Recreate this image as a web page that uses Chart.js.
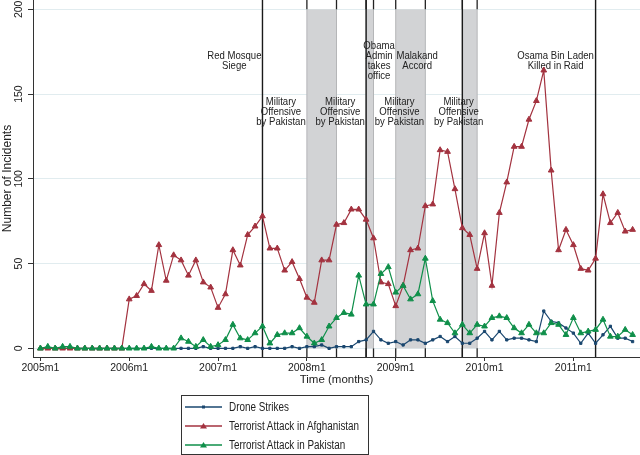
<!DOCTYPE html>
<html>
<head>
<meta charset="utf-8">
<title>Drone strikes and terrorist attacks</title>
<script src="https://cdn.jsdelivr.net/npm/chart.js@4.4.1/dist/chart.umd.min.js"></script>
<style>
    html, body { margin: 0; padding: 0; background: #fff; }
    #wrap { position: relative; width: 640px; height: 455px; }
    #legend {
        position: absolute; left: 181px; top: 395px; width: 186px; height: 57px;
        border: 1px solid #333; padding-top: 1px; box-sizing: content-box;
        font-family: 'Liberation Sans', Arial, sans-serif; font-size: 12.5px; color: #222;
    }
    .legend-row { height: 19px; display: flex; align-items: center; padding-left: 3px; }
    .legend-row svg { flex: none; }
    .legend-row span { display: inline-block; margin-left: 7px; white-space: nowrap; transform: scaleX(0.79); transform-origin: left center; }
</style>
</head>
<body>
<div id="wrap">
    <canvas id="chart" width="640" height="455"></canvas>
    <div id="legend"></div>
</div>
<script>
// months counted from 2005m1 (= 0) up to 2011m9 (= 80)
const tickMonths = [0, 12, 24, 36, 48, 60, 72];
const tickLabels = ['2005m1', '2006m1', '2007m1', '2008m1', '2009m1', '2010m1', '2011m1'];
const yTicks = [0, 50, 100, 150, 200];

const droneStrikes = [
    0, 0, 0, 0, 0, 0, 0, 0, 0, 0, 0, 0,
    0, 0, 0, 0, 0, 0, 0, 0, 0, 0, 1, 0,
    0, 0, 0, 1, 0, 1, 0, 0, 0, 0, 1, 0,
    1, 1, 2, 0, 1, 1, 1, 4, 5, 10, 5, 3,
    4, 2, 5, 5, 3, 5, 7, 4, 7, 3, 3, 6,
    10, 5, 10, 5, 6, 6, 5, 4, 22, 16, 15, 12,
    9, 3, 9, 3, 8, 13, 6, 6, 4,
];
const afghanistanAttacks = [
    0, 0, 0, 0, 0, 0, 0, 0, 0, 0, 0, 0,
    29, 31, 38, 34, 61, 40, 55, 52, 43, 52, 39, 36,
    24, 32, 58, 49, 67, 72, 78, 59, 59, 46, 51, 41,
    30, 27, 52, 52, 73, 74, 82, 82, 76, 65, 39, 38,
    25, 37, 58, 59, 84, 85, 117, 116, 94, 71, 67, 47,
    68, 37, 80, 98, 119, 119, 135, 146, 164, 105, 58, 70,
    61, 47, 46, 53, 91, 74, 80, 69, 70,
];
const pakistanAttacks = [
    0, 1, 0, 1, 1, 0, 0, 0, 0, 0, 0, 0,
    0, 0, 0, 1, 0, 0, 0, 6, 4, 1, 5, 1,
    2, 5, 14, 6, 5, 9, 13, 3, 8, 9, 9, 12,
    7, 3, 5, 13, 18, 21, 20, 43, 26, 26, 44, 48,
    33, 37, 29, 32, 53, 28, 17, 15, 9, 14, 9, 14,
    13, 18, 19, 18, 12, 9, 14, 9, 9, 15, 14, 8,
    18, 9, 10, 11, 17, 7, 7, 11, 8,
];

// shaded periods and single events, in months from 2005m1
const shadedPeriods = [[36, 40], [44, 45], [48, 52], [57, 59]];
const eventMonths = [30, 44, 57, 75];

const notes = [
    { month: 26.2, value: 172.4, lines: ['Red Mosque', 'Siege'] },
    { month: 32.5, value: 145.3, lines: ['Military', 'Offensive', 'by Pakistan'] },
    { month: 40.5, value: 145.3, lines: ['Military', 'Offensive', 'by Pakistan'] },
    { month: 45.75, value: 178.3, lines: ['Obama', 'Admin', 'takes', 'office'] },
    { month: 50.9, value: 172.4, lines: ['Malakand', 'Accord'] },
    { month: 48.5, value: 145.3, lines: ['Military', 'Offensive', 'by Pakistan'] },
    { month: 56.5, value: 145.3, lines: ['Military', 'Offensive', 'by Pakistan'] },
    { month: 69.6, value: 172.4, lines: ['Osama Bin Laden', 'Killed in Raid'] },
];

const FONT = "'Liberation Sans', Arial, sans-serif";

const series = [
    { label: 'Drone Strikes', data: droneStrikes, color: '#1a476f', pointStyle: 'rect', radius: 1.6, order: 2 },
    { label: 'Terrorist Attack in Afghanistan', data: afghanistanAttacks, color: '#a3323f', pointStyle: 'triangle', radius: 3.3, order: 1 },
    { label: 'Terrorist Attack in Pakistan', data: pakistanAttacks, color: '#0f8f4a', pointStyle: 'triangle', radius: 3.3, order: 0 },
];

function vLine(ctx, px, from, to) {
    ctx.beginPath();
    ctx.moveTo(px, from);
    ctx.lineTo(px, to);
    ctx.stroke();
}

const eventsPlugin = {
    id: 'events',
    beforeDatasetsDraw(chart) {
        const { ctx, chartArea, scales: { x, y } } = chart;
        const yTop = y.getPixelForValue(200);
        const yZero = y.getPixelForValue(0);
        ctx.save();

        // shaded periods, outlined in a slightly darker grey
        ctx.fillStyle = '#d2d3d5';
        ctx.strokeStyle = '#b5b6b8';
        ctx.lineWidth = 1;
        shadedPeriods.forEach(([from, to]) => {
            const x0 = x.getPixelForValue(from);
            const x1 = x.getPixelForValue(to);
            ctx.fillRect(x0, yTop, x1 - x0, yZero - yTop);
            vLine(ctx, x0, yTop, yZero);
            vLine(ctx, x1, yTop, yZero);
        });

        // black stubs of the period edges above 200 and below 0
        ctx.strokeStyle = '#222';
        ctx.lineWidth = 1.3;
        shadedPeriods.flat().forEach((m) => {
            const px = x.getPixelForValue(m);
            vLine(ctx, px, chartArea.top, yTop);
            vLine(ctx, px, yZero, chartArea.bottom);
        });

        ctx.strokeStyle = '#1a1a1a';
        ctx.lineWidth = 1.4;
        eventMonths.forEach((m) => vLine(ctx, x.getPixelForValue(m), chartArea.top, chartArea.bottom));

        ctx.fillStyle = '#222';
        ctx.font = `11px ${FONT}`;
        ctx.textAlign = 'center';
        ctx.textBaseline = 'middle';
        notes.forEach((note) => {
            const px = x.getPixelForValue(note.month);
            const py = y.getPixelForValue(note.value);
            note.lines.forEach((line, i) => {
                ctx.save();
                ctx.translate(px, py + i * 9.8);
                ctx.scale(0.87, 1);
                ctx.fillText(line, 0, 0);
                ctx.restore();
            });
        });
        ctx.restore();
    },
};

function buildLegend() {
    const legend = document.getElementById('legend');
    series.forEach((s) => {
        const row = document.createElement('div');
        row.className = 'legend-row';
        const marker = s.pointStyle === 'rect'
            ? `<rect x="17" y="3.5" width="3" height="3" fill="${s.color}"/>`
            : `<polygon points="18.5,2 22,7.5 15,7.5" fill="${s.color}"/>`;
        row.innerHTML = `<svg width="37" height="10"><line x1="0" y1="5" x2="37" y2="5" stroke="${s.color}" stroke-width="1.3"/>${marker}</svg><span>${s.label}</span>`;
        legend.appendChild(row);
    });
}

new Chart(document.getElementById('chart'), {
    type: 'line',
    data: {
        datasets: series.map((s) => ({
            label: s.label,
            data: s.data.map((v, i) => ({ x: i, y: v })),
            borderColor: s.color,
            backgroundColor: s.color,
            borderWidth: 1.2,
            pointStyle: s.pointStyle,
            pointRadius: s.radius,
            pointBorderWidth: 1,
            tension: 0,
            order: s.order,
        })),
    },
    options: {
        responsive: false,
        animation: false,
        layout: { autoPadding: false, padding: { left: 0, right: 0, top: 0, bottom: 68 } },
        plugins: { legend: { display: false }, tooltip: { enabled: false } },
        scales: {
            x: {
                type: 'linear',
                min: -1,
                max: 81,
                afterBuildTicks(scale) { scale.ticks = tickMonths.map((v) => ({ value: v })); },
                afterFit(scale) {
                    scale.height = 30;
                    scale.paddingLeft = 0;
                    scale.paddingRight = 0;
                },
                ticks: {
                    autoSkip: false, maxRotation: 0, padding: 1, color: '#222',
                    font: { family: FONT, size: 10.5 },
                    callback: (value) => tickLabels[tickMonths.indexOf(value)],
                },
                grid: { drawOnChartArea: false, tickLength: 4, tickColor: '#333', tickWidth: 1 },
                border: { color: '#333', width: 1 },
                title: { display: true, text: 'Time (months)', color: '#222', padding: 0, font: { family: FONT, size: 11.5 } },
            },
            y: {
                min: -5.1,
                max: 205.5,
                afterBuildTicks(scale) { scale.ticks = yTicks.map((v) => ({ value: v })); },
                afterFit(scale) {
                    scale.width = 33;
                    scale.paddingTop = 0;
                    scale.paddingBottom = 0;
                },
                ticks: {
                    autoSkip: false, minRotation: 90, maxRotation: 90, crossAlign: 'center', padding: 0,
                    color: '#222', font: { family: FONT, size: 10.5 },
                },
                grid: { color: '#e1ecef', lineWidth: 1, tickLength: 5, tickColor: '#333', tickWidth: 1 },
                border: { color: '#333', width: 1 },
                title: { display: true, text: 'Number of Incidents', color: '#222', padding: 0, font: { family: FONT, size: 12 } },
            },
        },
    },
    plugins: [eventsPlugin],
});

buildLegend();
</script>
</body>
</html>
